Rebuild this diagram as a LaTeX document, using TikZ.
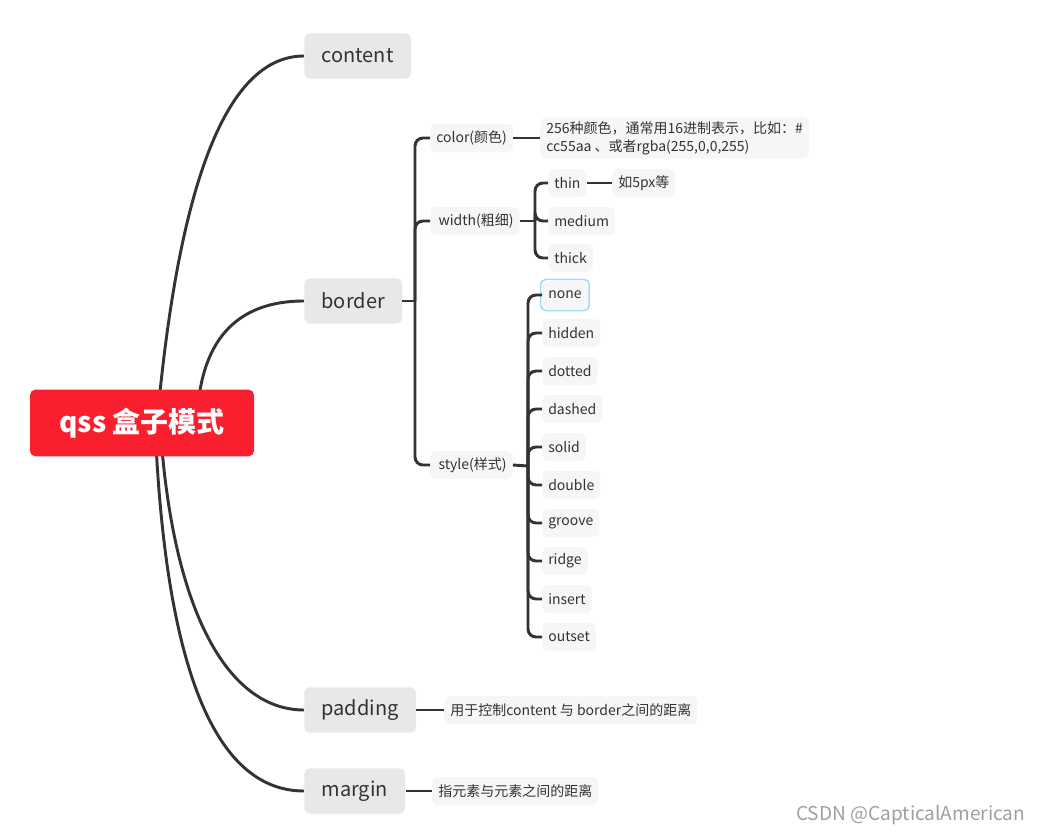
\documentclass[tikz,border=0pt]{standalone}
\usepackage{fontspec}
\setmainfont{Noto Sans CJK SC}
\usepackage{xcolor}
\usepackage{tikz}
\usetikzlibrary{positioning, calc, backgrounds}

\definecolor{linegray}{HTML}{333333}
\definecolor{mainfill}{HTML}{E8E8E8}
\definecolor{subfill}{HTML}{F6F6F6}
\definecolor{rootred}{HTML}{F91F2E}
\definecolor{selblue}{HTML}{A3DAF8}

\tikzset{
  conn/.style={draw=linegray, line width=2.2pt},
  rootbox/.style={fill=rootred, text=white, rounded corners=4pt, minimum width=168pt,
    minimum height=50pt, font=\fontsize{21}{25}\selectfont\bfseries},
  mainbox/.style={fill=mainfill, text=linegray, rounded corners=4pt, minimum height=34pt,
    inner xsep=13pt, anchor=west, font=\fontsize{15}{18}\selectfont},
  subbox/.style={fill=subfill, text=linegray, rounded corners=4pt, minimum height=21pt,
    inner xsep=4.5pt, anchor=west, font=\fontsize{10.5}{13}\selectfont},
  notebox/.style={subbox, align=left, inner ysep=3pt, font=\fontsize{10.5}{13.5}\selectfont},
}

\begin{document}
\begin{tikzpicture}[x=0.75pt, y=-0.75pt]
\useasboundingbox (0,0) rectangle (1045,835);

% root and first level
\node[rootbox] (root) at (142,423) {qss 盒子模式};
\node[mainbox] (content) at (304,56) {content};
\node[mainbox] (border) at (304,301) {border};
\node[mainbox] (padding) at (304,710) {padding};
\node[mainbox] (margin) at (304,791) {margin};

\begin{scope}[on background layer]
\coordinate (hubc) at ($(root.center)+(15,0)$);
\coordinate (hubb) at ($(root.center)+(55,0)$);
\coordinate (hubp) at ($(root.center)+(18,0)$);
\coordinate (hubm) at ($(root.center)+(13,0)$);
\draw[conn] (hubc) .. controls (179,178) and (228,56) .. (content.west);
\draw[conn] (hubb) .. controls (199,342) and (235,301) .. (border.west);
\draw[conn] (hubp) .. controls (172,614) and (229,710) .. (padding.west);
\draw[conn] (hubm) .. controls (165,668) and (215,791) .. (margin.west);
\end{scope}

% border
\coordinate (bj) at (415,301);
\node[subbox] (color) at (430,138) {color(颜色)};
\node[subbox] (width) at (430,221) {\,width(粗细)};
\node[subbox] (style) at (430,465) {\,style(样式)};
\draw[conn] (border.east) -- (bj);
\foreach \lbl in {color,width,style}
  \draw[conn, rounded corners=6pt] (bj) |- (\lbl.west);

\node[notebox] (colornote) at (540,138) {256种颜色，通常用16进制表示，比如：\#\\cc55aa 、或者rgba(255,0,0,255)};
\draw[conn] (color.east) -- (colornote.west);

% width
\coordinate (wj) at (535,221);
\foreach \lbl/\y in {thin/183, medium/221, thick/258}
  \node[subbox] (\lbl) at (548,\y) {\lbl};
\draw[conn] (width.east) -- (wj);
\foreach \lbl in {thin,medium,thick}
  \draw[conn, rounded corners=6pt] (wj) |- (\lbl.west);
\node[subbox] (thinnote) at (612,183) {如5px等};
\draw[conn] (thin.east) -- (thinnote.west);

% style
\coordinate (sj) at (528,466);
\foreach \lbl [count=\i from 0] in {none,hidden,dotted,dashed,solid,double,groove,ridge,insert,outset}
  \node[subbox] (\lbl) at (542,{295+38*\i}) {\lbl};
\draw[selblue, line width=1.2pt, rounded corners=4pt] ([xshift=-1pt,yshift=-1pt]none.south west) rectangle ([xshift=1pt,yshift=1pt]none.north east);
\draw[conn] (style.east) -- (sj);
\foreach \lbl in {none,hidden,dotted,dashed,solid,double,groove,ridge,insert,outset}
  \draw[conn, rounded corners=6pt] (sj) |- (\lbl.west);

% padding, margin
\node[notebox] (padnote) at (444,710) {用于控制content 与 border之间的距离};
\draw[conn] (padding.east) -- (padnote.west);
\node[notebox] (marnote) at (432,791) {指元素与元素之间的距离};
\draw[conn] (margin.east) -- (marnote.west);

\node[anchor=east, text=gray!75, font=\fontsize{14.3}{16}\selectfont] (mark) at (1030,815) {CSDN @CapticalAmerican};
\end{tikzpicture}
\end{document}
